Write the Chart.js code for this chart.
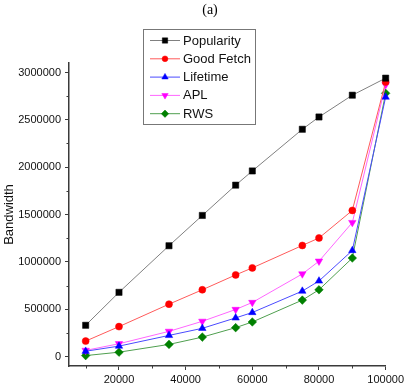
<!DOCTYPE html>
<html>
<head>
<meta charset="utf-8">
<script src="https://cdn.jsdelivr.net/npm/chart.js@4/dist/chart.umd.min.js"></script>
<style>
  html, body { margin: 0; padding: 0; background: #fff; }
  #wrap { position: relative; width: 407px; height: 387px; }
</style>
</head>
<body>
<div id="wrap"><canvas id="c" width="407" height="387"></canvas></div>
<script>
// ---- data ----
const xValues = [10000, 20000, 35000, 45000, 55000, 60000, 75000, 80000, 90000, 100000];
const popularity = [330000, 678000, 1170000, 1490000, 1810000, 1960000, 2400000, 2530000, 2760000, 2940000];
const goodFetch  = [163000, 316000, 553000, 705000, 862000, 936000, 1173000, 1252000, 1543000, 2900000];
const lifetime   = [56000, 110000, 223000, 298000, 408000, 465000, 691000, 798000, 1120000, 2740000];
const apl        = [65000, 135000, 266000, 372000, 497000, 571000, 872000, 1007000, 1415000, 2870000];
const rws        = [10000, 46000, 128000, 205000, 305000, 365000, 596000, 705000, 1040000, 2780000];
const seriesNames = ['Popularity', 'Good Fetch', 'Lifetime', 'APL', 'RWS'];
const xTicks = [20000, 40000, 60000, 80000, 100000];
const xMinorTicks = [10000, 30000, 50000, 70000, 90000];
const yTicks = [0, 500000, 1000000, 1500000, 2000000, 2500000, 3000000];
const yMinorTicks = [250000, 750000, 1250000, 1750000, 2250000, 2750000];

const AXIS = '#3a3a3a';
const FONT = '"Liberation Sans", Arial, sans-serif';

function mk(name, vals, line, fill, style, radius, rotation) {
  return {
    label: name,
    data: xValues.map((x, i) => ({ x: x, y: vals[i] })),
    borderColor: line,
    backgroundColor: fill,
    pointBackgroundColor: fill,
    pointBorderColor: fill,
    pointStyle: style,
    pointRadius: radius,
    pointRotation: rotation || 0,
    pointBorderWidth: 0.5,
    borderWidth: 1,
    tension: 0,
    clip: false
  };
}

const datasets = [
  mk(seriesNames[0], popularity, '#808080', '#000000', 'rect', 4.4),
  mk(seriesNames[1], goodFetch, '#ff5a5a', '#ff0000', 'circle', 3.5),
  mk(seriesNames[2], lifetime, '#4a4aff', '#0000ff', 'triangle', 4.3),
  mk(seriesNames[3], apl, '#ff66ff', '#ff00ff', 'triangle', 4.3, 180),
  mk(seriesNames[4], rws, '#4f9f4f', '#008000', 'rectRot', 4.3)
];

const extras = {
  id: 'extras',
  afterDraw(chart) {
    const ctx = chart.ctx;
    const xs = chart.scales.x, ys = chart.scales.y;
    const ca = chart.chartArea;
    ctx.save();
    // minor ticks
    ctx.strokeStyle = AXIS;
    ctx.lineWidth = 1;
    ctx.beginPath();
    xMinorTicks.forEach(v => {
      const px = Math.round(xs.getPixelForValue(v)) + 0.5;
      ctx.moveTo(px, ca.bottom); ctx.lineTo(px, ca.bottom + 2.5);
    });
    yMinorTicks.forEach(v => {
      const py = Math.round(ys.getPixelForValue(v)) + 0.5;
      ctx.moveTo(ca.left, py); ctx.lineTo(ca.left - 2.5, py);
    });
    ctx.stroke();

    // title
    ctx.fillStyle = '#000';
    ctx.font = '14px "Liberation Serif", "Times New Roman", serif';
    ctx.textAlign = 'center';
    ctx.textBaseline = 'middle';
    ctx.fillText('(a)', 210, 10);

    // legend
    const bx = 143.5, by = 29.5, bw = 112, bh = 95;
    ctx.fillStyle = '#fff';
    ctx.fillRect(bx, by, bw, bh);
    ctx.strokeStyle = '#777';
    ctx.lineWidth = 1;
    ctx.strokeRect(bx, by, bw, bh);
    ctx.font = '13px ' + FONT;
    ctx.textAlign = 'left';
    ctx.textBaseline = 'middle';
    chart.data.datasets.forEach((ds, i) => {
      const y = 40.5 + i * 18.3;
      ctx.strokeStyle = ds.borderColor;
      ctx.lineWidth = 1;
      ctx.beginPath();
      ctx.moveTo(150, y); ctx.lineTo(180, y);
      ctx.stroke();
      const opts = {
        pointStyle: ds.pointStyle, radius: ds.pointRadius - 0.6, rotation: ds.pointRotation,
        borderWidth: ds.pointBorderWidth
      };
      ctx.fillStyle = ds.pointBackgroundColor;
      ctx.strokeStyle = ds.pointBorderColor;
      ctx.lineWidth = ds.pointBorderWidth;
      Chart.helpers.drawPoint(ctx, opts, 165, y);
      ctx.fillStyle = '#111';
      ctx.fillText(ds.label, 183, y + 0.5);
    });
    ctx.restore();
  }
};

new Chart(document.getElementById('c'), {
  type: 'line',
  data: { datasets: datasets },
  options: {
    responsive: false,
    animation: false,
    layout: { padding: { top: 63, right: 20, left: 0, bottom: 0 } },
    plugins: { legend: { display: false }, tooltip: { enabled: false }, title: { display: false } },
    scales: {
      x: {
        type: 'linear',
        min: 5000, max: 100000,
        afterBuildTicks: s => { s.ticks = xTicks.map(v => ({ value: v })); },
        afterFit: s => { s.height = 21; },
        grid: { display: true, drawOnChartArea: false, drawTicks: true, tickLength: 4, color: AXIS, lineWidth: 1 },
        border: { display: true, color: AXIS, width: 1.5 },
        ticks: { color: '#111', font: { family: FONT, size: 11 }, padding: 3, maxRotation: 0, autoSkip: false,
                 callback: v => String(v) }
      },
      y: {
        type: 'linear',
        min: -100000, max: 3100000,
        afterBuildTicks: s => { s.ticks = yTicks.map(v => ({ value: v })); },
        afterFit: s => { s.width = 69; },
        grid: { display: true, drawOnChartArea: false, drawTicks: true, tickLength: 4, color: AXIS, lineWidth: 1 },
        border: { display: true, color: AXIS, width: 1.5 },
        title: { display: true, text: 'Bandwidth', color: '#111', font: { family: FONT, size: 13 }, padding: { top: 2, bottom: 0 } },
        ticks: { color: '#111', font: { family: FONT, size: 11 }, padding: 4, autoSkip: false,
                 callback: v => String(v) }
      }
    }
  },
  plugins: [extras]
});
</script>
</body>
</html>
